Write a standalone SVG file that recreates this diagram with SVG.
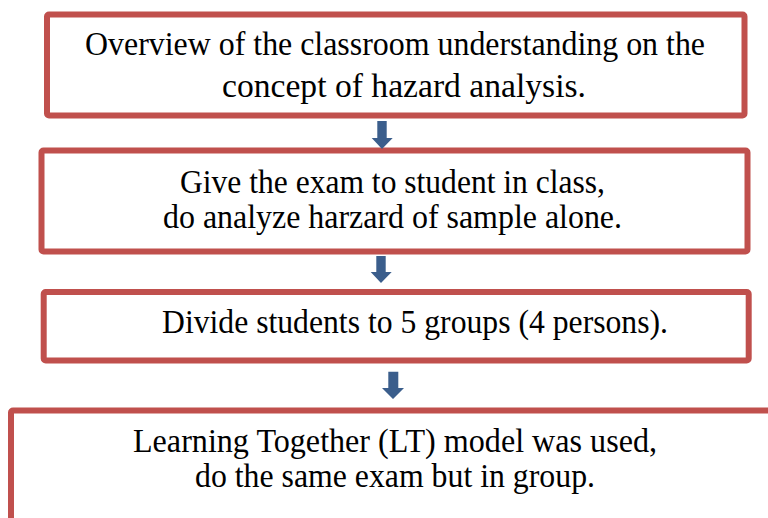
<svg xmlns="http://www.w3.org/2000/svg" width="768" height="518" viewBox="0 0 768 518">
<style>
.box{fill:#fff;stroke:#C0504D;stroke-width:6;stroke-linejoin:round}
.t{font-family:"Liberation Serif","Times New Roman",serif;font-size:33.5px;fill:#000;text-anchor:middle}
.arr{fill:#3B5E8C}
</style>
<rect width="768" height="518" fill="#fff"/>
<g id="node1">
<rect class="box" x="47" y="14.5" width="697.5" height="101" rx="2"/>
<text class="t" x="395" y="55" textLength="620" lengthAdjust="spacingAndGlyphs">Overview of the classroom understanding on the</text>
<text class="t" x="404" y="97" textLength="364" lengthAdjust="spacingAndGlyphs">concept of hazard analysis.</text>
</g>
<g id="node2">
<rect class="box" x="41.5" y="150.5" width="706" height="101" rx="2"/>
<text class="t" x="392.5" y="193" textLength="425" lengthAdjust="spacingAndGlyphs">Give the exam to student in class,</text>
<text class="t" x="392.5" y="228" textLength="459" lengthAdjust="spacingAndGlyphs">do analyze harzard of sample alone.</text>
</g>
<g id="node3">
<rect class="box" x="43.7" y="292" width="705" height="68.5" rx="2"/>
<text class="t" x="415" y="333" textLength="506" lengthAdjust="spacingAndGlyphs">Divide students to 5 groups (4 persons).</text>
</g>
<g id="node4">
<rect class="box" x="11" y="410.5" width="800" height="200" rx="2"/>
<text class="t" x="395" y="452" textLength="524" lengthAdjust="spacingAndGlyphs">Learning Together (LT) model was used,</text>
<text class="t" x="395" y="487" textLength="400" lengthAdjust="spacingAndGlyphs">do the same exam but in group.</text>
</g>
<g id="connectors">
<path class="arr" d="M377.3 121H386.7V138H392.7L382 149L371.7 138H377.3Z"/>
<path class="arr" d="M376.3 256H385.7V272H391.7L381 283L370.7 272H376.3Z"/>
<path class="arr" d="M388.3 371.7H398.3V388H404L393 399L382 388H388.3Z"/>
</g>
</svg>
